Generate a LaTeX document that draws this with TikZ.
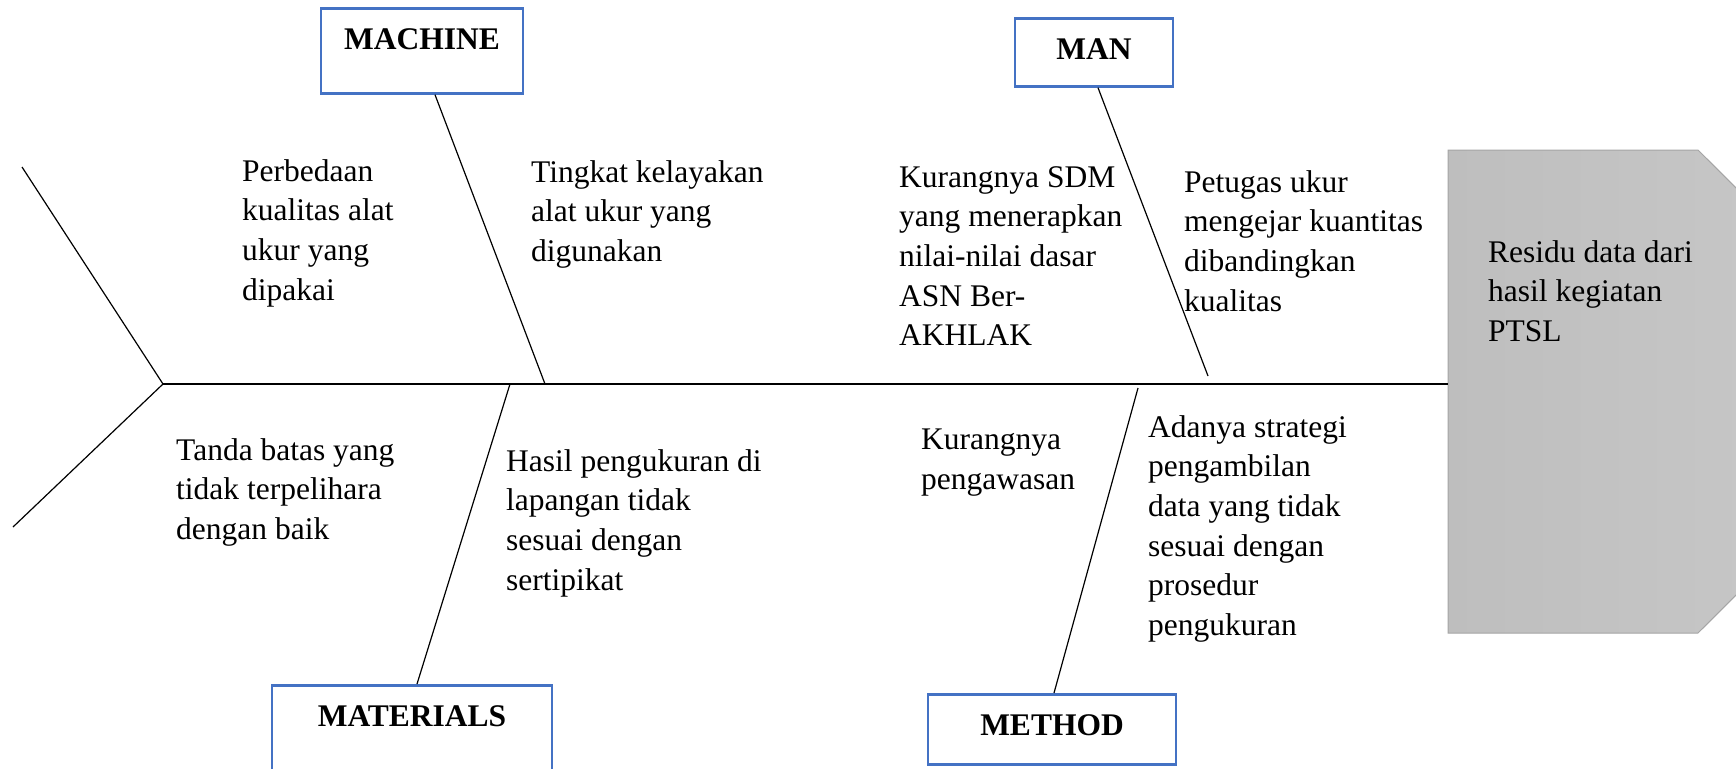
\documentclass[tikz,border=0pt]{standalone}
\usepackage{fontspec}
\setmainfont{Liberation Serif}
\usetikzlibrary{positioning}

\definecolor{boxblue}{RGB}{68,114,196}
\definecolor{headdark}{RGB}{190,190,190}
\definecolor{headlight}{RGB}{203,203,203}
\definecolor{headline}{RGB}{165,165,165}

\tikzset{
  catbox/.style={draw=boxblue, line width=2.7pt, inner sep=0pt, anchor=north,
    text height=41pt, font=\fontsize{31.5}{38}\selectfont\bfseries},
  cause/.style={anchor=north west, inner sep=0pt, align=left,
    font=\fontsize{31.5}{39.7}\selectfont},
  bone/.style={line width=1.2pt}
}

\begin{document}
\begin{tikzpicture}[x=1pt,y=-1pt]
    \useasboundingbox (0,0) rectangle (1736,768);
    \clip (0,0) rectangle (1736,768);

    % head of the fish
    \shadedraw[left color=headdark, right color=headlight, draw=headline, line width=1pt]
        (1448,150) -- (1698,150) -- (1940,391.5) -- (1698,633) -- (1448,633) -- cycle;
    \coordinate (head) at (1448,384);
    \node[cause] (residu) at (1488,240) {Residu data dari\\hasil kegiatan\\PTSL};

    % spine and tail
    \coordinate (tail) at (163,384);
    \coordinate (tailup) at (22,167);
    \coordinate (taildown) at (13,527);
    \draw[bone] (tailup) -- (tail) -- (taildown);
    \draw[bone] (tail) -- (head);

    % categories
    \node[catbox, minimum width=202pt, text depth=44pt] (machine) at (422,7) {MACHINE};
    \node[catbox, minimum width=158pt, text depth=27pt] (man) at (1094,17) {MAN};
    \node[catbox, minimum width=280pt, text depth=59pt] (materials) at (412,684) {MATERIALS};
    \node[catbox, minimum width=248pt, text depth=29pt] (method) at (1052,693) {METHOD};

    % bones
    \coordinate (machinefoot) at (545,384);
    \coordinate (manfoot) at (1208,376);
    \coordinate (materialsfoot) at (510,384);
    \coordinate (methodfoot) at (1138,388);
    \draw[bone] ([xshift=13pt]machine.south) -- (machinefoot);
    \draw[bone] ([xshift=4pt]man.south) -- (manfoot);
    \draw[bone] ([xshift=5pt]materials.north) -- (materialsfoot);
    \draw[bone] ([xshift=2pt]method.north) -- (methodfoot);

    % causes
    \node[cause] (perbedaan) at (242,159) {Perbedaan\\kualitas alat\\ukur yang\\dipakai};
    \node[cause] (tingkat) at (531,160) {Tingkat kelayakan\\alat ukur yang\\digunakan};
    \node[cause] (kurangsdm) at (899,166) {Kurangnya SDM\\yang menerapkan\\nilai-nilai dasar\\ASN Ber-\\AKHLAK};
    \node[cause] (petugas) at (1184,170) {Petugas ukur\\mengejar kuantitas\\dibandingkan\\kualitas};
    \node[cause] (tanda) at (176,438) {Tanda batas yang\\tidak terpelihara\\dengan baik};
    \node[cause] (hasil) at (506,449) {Hasil pengukuran di\\lapangan tidak\\sesuai dengan\\sertipikat};
    \node[cause] (kurangawas) at (921,429) {Kurangnya\\pengawasan};
    \node[cause] (adanya) at (1148,415) {Adanya strategi\\pengambilan\\data yang tidak\\sesuai dengan\\prosedur\\pengukuran};
\end{tikzpicture}
\end{document}
